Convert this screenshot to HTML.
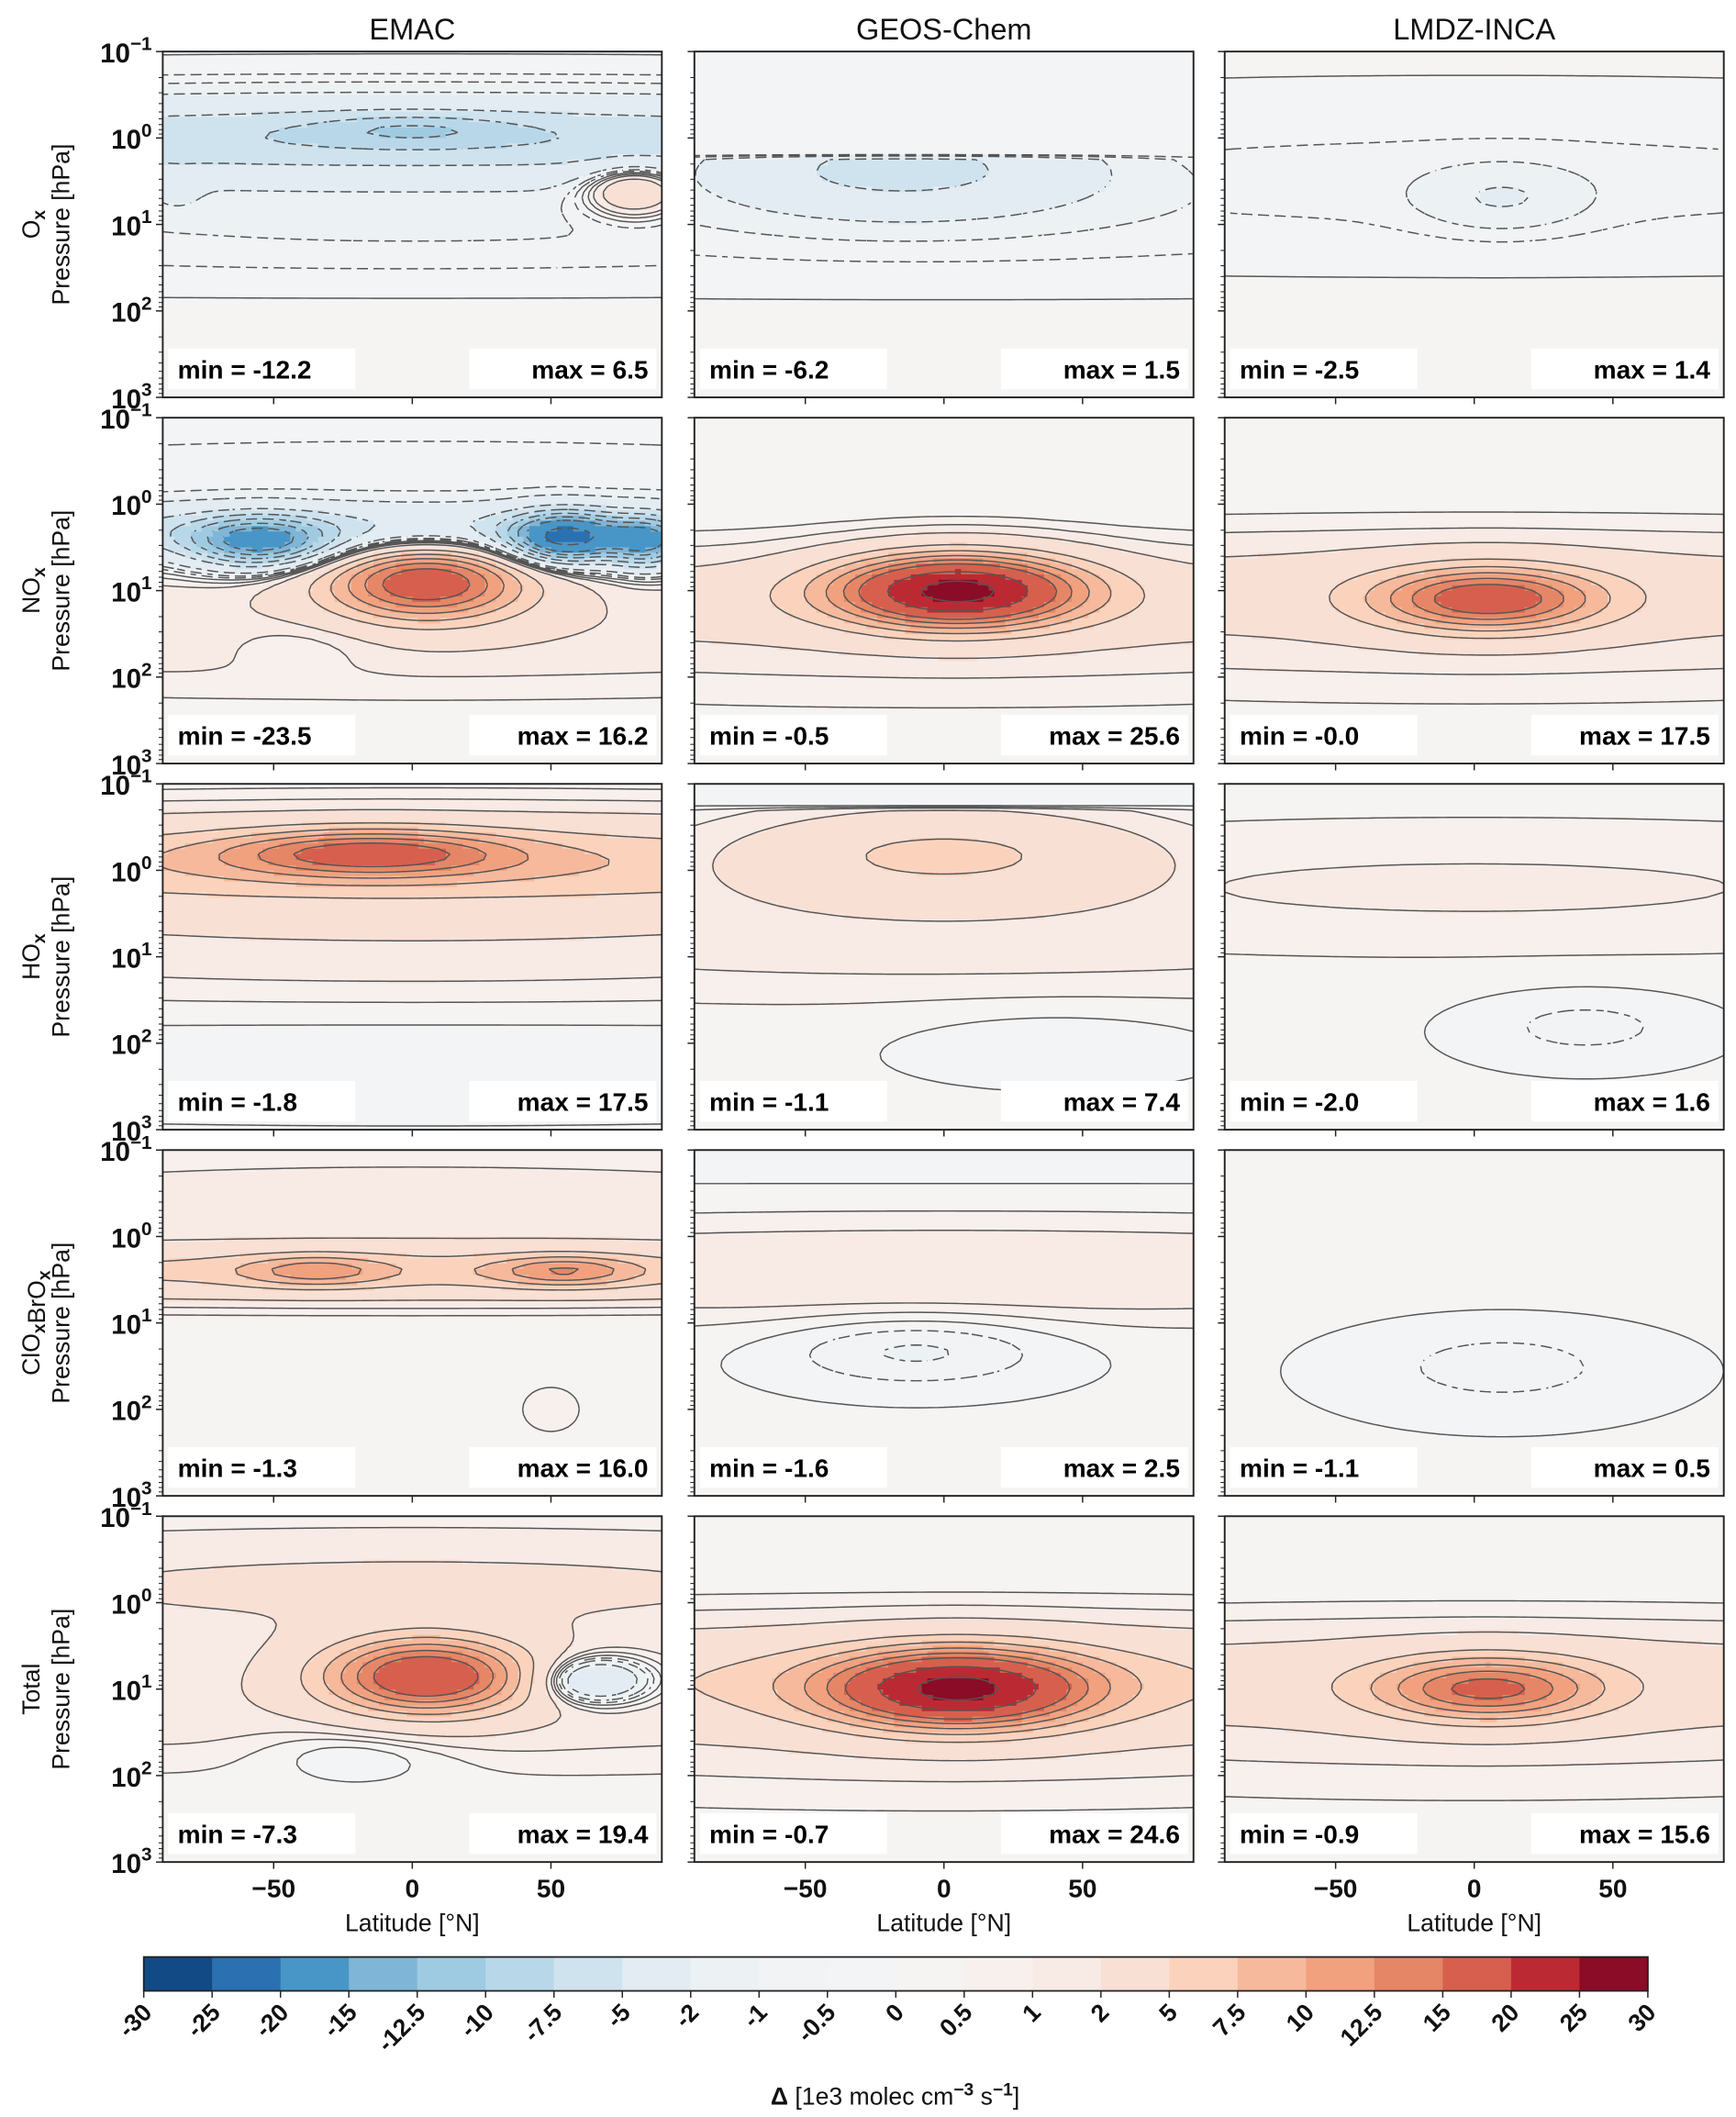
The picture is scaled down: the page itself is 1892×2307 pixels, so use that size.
<!DOCTYPE html>
<html><head><meta charset="utf-8">
<style>
html,body{margin:0;padding:0;background:#fff;}
svg{display:block;font-family:"Liberation Sans","DejaVu Sans",sans-serif;}
</style></head>
<body>
<svg id="fig" width="1892" height="2307" viewBox="0 0 1280 1561" preserveAspectRatio="none" xmlns="http://www.w3.org/2000/svg">
<rect width="1280" height="1561" fill="#fff"/>
<g id="panels"></g>
<g id="cbar"></g>
</svg>
<script>
// ---- data ----
const models = ["EMAC","GEOS-Chem","LMDZ-INCA"];
const species = [["O","x",""],["NO","x",""],["HO","x",""],["ClO","x","BrO","x"],["Total"]];
const levels = [-30,-25,-20,-15,-12.5,-10,-7.5,-5,-2,-1,-0.5,0,0.5,1,2,5,7.5,10,12.5,15,20,25,30];
const levelColors = ["#124a85","#2b70b0","#4896c7","#7fb5d7","#9fcbe2","#b8d8ea","#cfe3ee","#e2ecf2","#ecf1f4","#f1f3f5","#f3f4f5",
 "#f6f4f3","#f8f0ed","#f8ebe6","#f9e0d4","#fbd3bd","#f6b99c","#f2a17f","#e58666","#d6604d","#bb2a33","#8a0c26"];
const cbarTicks = ["-30","-25","-20","-15","-12.5","-10","-7.5","-5","-2","-1","-0.5","0","0.5","1","2","5","7.5","10","12.5","15","20","25","30"];
const xTicks = [-50,0,50];
const yTicks = [-1,0,1,2,3];
const panelMin = [["-12.2","-6.2","-2.5"],["-23.5","-0.5","-0.0"],["-1.8","-1.1","-2.0"],["-1.3","-1.6","-1.1"],["-7.3","-0.7","-0.9"]];
const panelMax = [["6.5","1.5","1.4"],["16.2","25.6","17.5"],["17.5","7.4","1.6"],["16.0","2.5","0.5"],["19.4","24.6","15.6"]];
// features: [lat, log10(p), sigmaLat, sigmaLogP, amplitude]
const feats = [
 [ // Ox
  [[0,0.0,200,0.33,-7.5],[0,-0.1,25,0.12,-3.5],[0,1.0,200,0.45,-1.2],[80,0.6,12,0.2,6],[0,2.6,200,0.5,0.3],[-85,0.6,6,0.15,-1.5]],
  [[-15,0.35,45,0.35,-5.5],[0,0.8,200,0.6,-1.0],[0,2.6,200,0.5,0.3]],
  [[0,0.5,200,0.6,-0.8],[10,0.7,20,0.25,-1.5],[0,2.6,200,0.5,0.3]]
 ],
 [ // NOx
  [[0,0.3,200,0.22,-6],[-55,0.45,18,0.2,-14],[55,0.4,14,0.2,-18],[85,0.45,10,0.2,-12],[5,0.9,25,0.3,17],[0,1.4,200,0.5,1.8],[-40,1.6,20,0.2,-1.2],[0,-0.5,200,0.3,-0.8]],
  [[5,1.0,30,0.28,24],[0,1.1,200,0.4,3],[0,1.8,200,0.5,0.7]],
  [[5,1.1,28,0.25,15],[0,1.0,200,0.45,3],[0,1.8,200,0.5,0.6]]
 ],
 [ // HOx
  [[-15,-0.2,35,0.18,11],[0,-0.1,200,0.35,6.5],[0,0.6,200,0.6,1.8],[0,2.2,200,0.4,-0.6]],
  [[0,-0.2,50,0.35,5],[0,0.6,200,0.6,1.5],[40,2.0,40,0.3,-0.6]],
  [[0,0.2,200,0.6,1.0],[40,1.8,30,0.3,-0.8]]
 ],
 [ // ClOxBrOx
  [[-35,0.4,18,0.12,6],[55,0.4,18,0.12,7],[0,0.4,200,0.22,6],[0,-0.5,200,0.4,1.2],[50,2.0,8,0.2,0.9]],
  [[0,0.4,200,0.4,1.8],[-10,1.3,35,0.3,-1.3]],
  [[10,1.5,40,0.4,-0.8],[0,0.3,200,0.5,0.2]]
 ],
 [ // Total
  [[5,0.85,25,0.3,18],[65,0.9,14,0.18,-7],[0,-0.2,200,0.5,2.2],[-20,1.7,25,0.25,-1.3],[0,1.2,200,0.5,1.5]],
  [[5,1.0,32,0.3,22],[0,0.9,200,0.45,5],[0,1.8,200,0.5,0.8]],
  [[5,1.0,28,0.25,13],[0,0.9,200,0.45,3.2],[0,1.8,200,0.5,0.6]]
 ]
];
// top cut (field set to ~0 above this log p) for GEOS-Chem
const topCut = [[null,0.2,null],[null,null,null],[null,-0.7,null],[null,-0.6,null],[null,null,null]];

// ---- layout ----
const colX = [120,512,903], colW = 368;
const rowY = [38,308,578,848,1118], rowH = 255;
const NS = "http://www.w3.org/2000/svg";
function mk(tag, attrs, parent){ const e=document.createElementNS(NS,tag); for(const k in attrs) e.setAttribute(k,attrs[k]); if(parent) parent.appendChild(e); return e; }
function binOf(v){ for(let i=levels.length-2;i>=0;i--){ if(v>=levels[i]) return i; } return 0; }

const root = document.getElementById('panels');
const NX=90, NY=64;
for(let r=0;r<5;r++){
 for(let c=0;c<3;c++){
  const x0=colX[c], y0=rowY[r];
  const xS = lat => x0 + (lat+90)/180*colW;
  const yS = lp => y0 + (lp+1)/4*rowH;
  const g = mk('g',{},root);
  
  
  const F=[];
  for(let j=0;j<=NY;j++){ F.push([]); const lp=-1+4*j/NY;
   for(let i=0;i<=NX;i++){ const lat=-90+180*i/NX; let v=0.1;
    for(const f of feats[r][c]){ const dx=(lat-f[0])/f[2], dy=(lp-f[1])/f[3]; v+=f[4]*Math.exp(-0.5*(dx*dx+dy*dy)); }
    if(topCut[r][c]!==null && lp<topCut[r][c]) v=-0.05;
    F[j].push(v);
   }}
  const paths = levelColors.map(()=> "");
  const cw=colW/NX, ch=rowH/NY;
  for(let j=0;j<NY;j++) for(let i=0;i<NX;i++){
   const v=(F[j][i]+F[j][i+1]+F[j+1][i]+F[j+1][i+1])/4; const b=binOf(v);
   const lat=-90+180*i/NX, lp=-1+4*j/NY;
   paths[b]+=`M${xS(lat).toFixed(2)} ${yS(lp).toFixed(2)}h${(cw+0.3).toFixed(2)}v${(ch+0.3).toFixed(2)}h${(-cw-0.3).toFixed(2)}z`;
  }
  paths.forEach((d,b)=>{ if(d){ const p=mk('path',{d:d,fill:levelColors[b]},g);
    
     }});
  const lineLevels = levels.slice(1,-1);
  for(const L of lineLevels){
   let d="";
   for(let j=0;j<NY;j++) for(let i=0;i<NX;i++){
    if(L<0 && ((i+j)%3===2)) continue; // dashed look for negative levels
    const a=F[j][i], bb=F[j][i+1], cc=F[j+1][i+1], dd=F[j+1][i];
    const pts=[];
    const lat0=-90+180*i/NX, lat1=-90+180*(i+1)/NX, lp0=-1+4*j/NY, lp1=-1+4*(j+1)/NY;
    if((a<L)!==(bb<L)){ const t=(L-a)/(bb-a); pts.push([lat0+t*(lat1-lat0),lp0]); }
    if((bb<L)!==(cc<L)){ const t=(L-bb)/(cc-bb); pts.push([lat1,lp0+t*(lp1-lp0)]); }
    if((dd<L)!==(cc<L)){ const t=(L-dd)/(cc-dd); pts.push([lat0+t*(lat1-lat0),lp1]); }
    if((a<L)!==(dd<L)){ const t=(L-a)/(dd-a); pts.push([lat0,lp0+t*(lp1-lp0)]); }
    for(let k=0;k+1<pts.length;k+=2) d+=`M${xS(pts[k][0]).toFixed(2)} ${yS(pts[k][1]).toFixed(2)}L${xS(pts[k+1][0]).toFixed(2)} ${yS(pts[k+1][1]).toFixed(2)}`;
   }
   if(d){ const p=mk('path',{d:d,fill:'none',stroke:'#555','stroke-width':1},g);
    
     }
  }
  const fr=mk('rect',{x:x0,y:y0,width:colW,height:rowH,fill:'none',stroke:'#222','stroke-width':1.3},g);
  
  
  for(const t of xTicks){ mk('line',{x1:xS(t),x2:xS(t),y1:y0+rowH,y2:y0+rowH+5,stroke:'#222','stroke-width':1},g);
   if(r===4){ const tx=mk('text',{x:xS(t),y:y0+rowH+26,'text-anchor':'middle','font-size':19,'font-weight':'bold',fill:'#111'},g);
    tx.textContent=t===0?"0":(t<0?"\u2212"+(-t):String(t));
    
     } }
  for(const t of yTicks){ mk('line',{x1:x0-5,x2:x0,y1:yS(t),y2:yS(t),stroke:'#222','stroke-width':1},g);
   for(let m=2;m<10&&t<3;m++){ const yy=yS(t+Math.log10(m)); mk('line',{x1:x0-3,x2:x0,y1:yy,y2:yy,stroke:'#222','stroke-width':0.7},g); }
   if(c===0){ const tx=mk('text',{x:x0-8,y:yS(t)+8,'text-anchor':'end','font-size':20,'font-weight':'bold',fill:'#111'},g);
    tx.innerHTML='10<tspan dy="-9" font-size="14">'+(t<0?'\u2212'+(-t):t)+'</tspan>';
    
     } }
  const mb=mk('rect',{x:x0+4,y:y0+rowH-36,width:138,height:30,fill:'#fff'},g);
  
  
  const mt=mk('text',{x:x0+11,y:y0+rowH-14,'font-size':19,'font-weight':'bold',fill:'#000'},g);
  mt.textContent='min = '+panelMin[r][c];
  
  
  const xb=mk('rect',{x:x0+colW-142,y:y0+rowH-36,width:138,height:30,fill:'#fff'},g);
  
  
  const xt=mk('text',{x:x0+colW-10,y:y0+rowH-14,'text-anchor':'end','font-size':19,'font-weight':'bold',fill:'#000'},g);
  xt.textContent='max = '+panelMax[r][c];
  
  
  if(r===0){ const tt=mk('text',{x:x0+colW/2,y:29,'text-anchor':'middle','font-size':22,fill:'#111'},g);
   tt.textContent=models[c];
   
    }
  if(r===4){ const xl=mk('text',{x:x0+colW/2,y:1424,'text-anchor':'middle','font-size':18,fill:'#111'},g);
   xl.textContent='Latitude [\u00b0N]';
   
    }
  if(c===0){ const cy=y0+rowH/2;
   const yl=mk('text',{x:0,y:0,'text-anchor':'middle','font-size':18,fill:'#111',transform:`translate(51,${cy}) rotate(-90)`},g);
   yl.textContent='Pressure [hPa]';
   
   
   const sp=mk('text',{x:0,y:0,'text-anchor':'middle','font-size':18,fill:'#111',transform:`translate(29,${cy}) rotate(-90)`},g);
   const s=species[r]; let h='';
   for(let k=0;k<s.length;k++){ if(k%2===0) h+=s[k]; else h+='<tspan font-weight="bold" font-size="13" dy="4">'+s[k]+'</tspan><tspan dy="-4"></tspan>'; }
   sp.innerHTML=h;
   
    }
 }
}
// ---- colorbar ----
const cb=document.getElementById('cbar');
const cbX0=106, cbX1=1215, cbY=1443, cbH=25, nb=levelColors.length;
const cbS = i => cbX0 + i*(cbX1-cbX0)/nb;
levelColors.forEach((col,i)=>{ const rr=mk('rect',{x:cbS(i),y:cbY,width:(cbX1-cbX0)/nb+0.4,height:cbH,fill:col},cb);
 
  });
mk('rect',{x:cbX0,y:cbY,width:cbX1-cbX0,height:cbH,fill:'none',stroke:'#222','stroke-width':1.2},cb);
cbarTicks.forEach((t,i)=>{ const x=cbS(i);
 mk('line',{x1:x,x2:x,y1:cbY+cbH,y2:cbY+cbH+5,stroke:'#222','stroke-width':1},cb);
 const tx=mk('text',{x:0,y:0,'text-anchor':'end','font-size':18,'font-weight':'bold',fill:'#111',transform:`translate(${x+7},${cbY+cbH+17}) rotate(-45)`},cb);
 tx.textContent=t;
 
  });
const cl=mk('text',{x:660,y:1552,'text-anchor':'middle','font-size':18,fill:'#111'},cb);
cl.innerHTML='<tspan font-weight="bold">\u0394</tspan> [1e3 molec cm<tspan dy="-7" font-size="13" font-weight="bold">\u22123</tspan><tspan dy="7"> s</tspan><tspan dy="-7" font-size="13" font-weight="bold">\u22121</tspan><tspan dy="7">]</tspan>';


</script>
</body></html>
